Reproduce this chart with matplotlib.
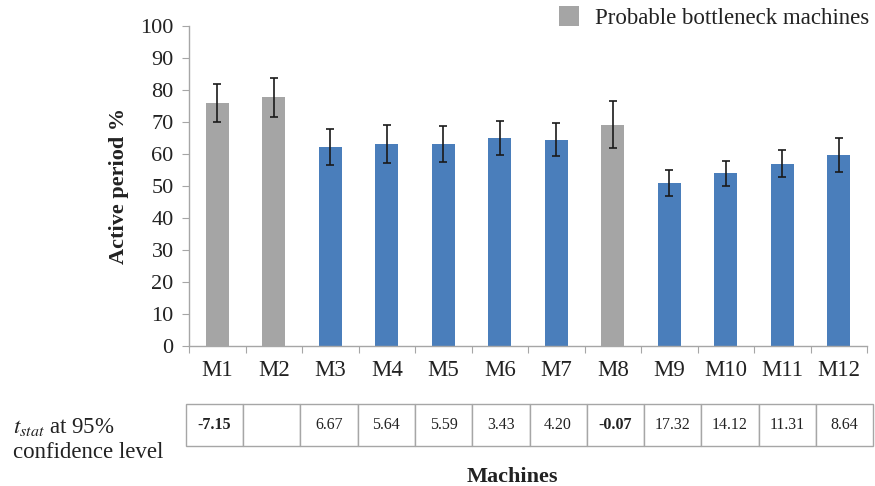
import matplotlib
matplotlib.use("Agg")
import matplotlib.pyplot as plt
from matplotlib.patches import Patch

plt.rcParams['font.family'] = ['Liberation Serif', 'DejaVu Serif']
plt.rcParams['mathtext.fontset'] = 'stix'

machines = ['M1', 'M2', 'M3', 'M4', 'M5', 'M6', 'M7', 'M8', 'M9', 'M10', 'M11', 'M12']
active_pct = [75.8, 77.6, 62.0, 63.0, 63.0, 65.0, 64.4, 69.1, 50.8, 53.9, 56.9, 59.6]
errors = [6.0, 6.2, 5.6, 6.0, 5.7, 5.3, 5.2, 7.3, 4.0, 3.9, 4.3, 5.2]
bottleneck = [True, True, False, False, False, False, False, True, False, False, False, False]
t_stat = ['-7.15', '', '6.67', '5.64', '5.59', '3.43', '4.20', '-0.07', '17.32', '14.12', '11.31', '8.64']
t_bold = [True, False, False, False, False, False, False, True, False, False, False, False]

BLUE = '#4a7ebb'
GREY = '#a5a5a5'
SPINE = '#a6a6a6'
TXT = '#222222'

W, H = 875, 486
fig = plt.figure(figsize=(W / 100, H / 100), dpi=100)
ax = fig.add_axes([189 / W, 1 - 345.7 / H, (867 - 189) / W, 320 / H])

x = list(range(1, len(machines) + 1))
colors = [GREY if b else BLUE for b in bottleneck]
ax.bar(x, active_pct, width=0.4, color=colors, zorder=2)
ax.errorbar(x, active_pct, yerr=errors, fmt='none', ecolor='#1a1a1a',
            elinewidth=1.2, capsize=3, capthick=1.2, zorder=3)

ax.set_xlim(0.5, len(machines) + 0.5)
ax.set_ylim(0, 100)
ax.set_yticks(range(0, 101, 10))
ax.set_xticks([i + 0.5 for i in range(0, len(machines) + 1)])
ax.set_xticklabels([])
ax.set_xticks(x, minor=True)
ax.set_xticklabels(machines, minor=True)
ax.tick_params(axis='x', which='major', length=5, color=SPINE, direction='out')
ax.tick_params(axis='x', which='minor', length=0, labelsize=16.5, pad=10, labelcolor=TXT)
ax.tick_params(axis='y', length=5, color=SPINE, labelsize=16, pad=6, labelcolor=TXT)
for s in ['top', 'right']:
    ax.spines[s].set_visible(False)
for s in ['left', 'bottom']:
    ax.spines[s].set_color(SPINE)
    ax.spines[s].set_linewidth(1.0)

ax.set_ylabel('Active period %', fontsize=16, fontweight='bold', labelpad=8, color=TXT)

# t-stat table
tab = ax.table(cellText=[t_stat], cellLoc='center',
               bbox=[(185.7 - 189) / 678, (345.7 - 445.7) / 320, 687.6 / 678, 41.7 / 320])
tab.auto_set_font_size(False)
for j in range(len(machines)):
    c = tab[0, j]
    c.set_edgecolor(SPINE)
    c.set_linewidth(1.0)
    c.get_text().set_fontsize(11.5)
    c.get_text().set_color(TXT)
    if t_bold[j]:
        c.get_text().set_fontweight('bold')

fig.text(13 / W, 1 - 427 / H, r'$t_{stat}$ at 95%', fontsize=16.5, va='center', ha='left', color=TXT)
fig.text(13 / W, 1 - 452 / H, 'confidence level', fontsize=16.5, va='center', ha='left', color=TXT)

fig.text(512 / W, 1 - 477 / H, 'Machines', fontsize=16, fontweight='bold', ha='center', va='center', color=TXT)

leg = fig.legend(handles=[Patch(facecolor=GREY, edgecolor='none', label='Probable bottleneck machines')],
                 loc='upper right', bbox_to_anchor=(1.0, 1.0), frameon=False, fontsize=16.5,
                 handlelength=0.87, handleheight=1.0, handletextpad=0.7,
                 borderaxespad=0.1, borderpad=0.15, labelcolor=TXT)

fig.savefig('out.png', dpi=100, facecolor='white')
